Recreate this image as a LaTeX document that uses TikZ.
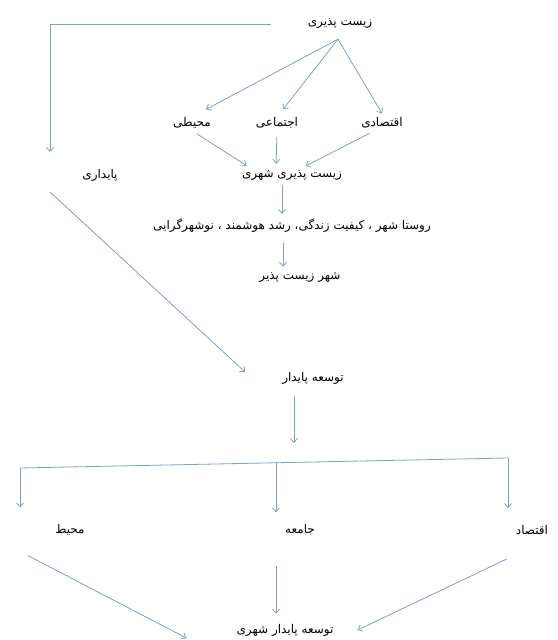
\documentclass[tikz,border=0pt]{standalone}
\usepackage{fontspec}
\newfontfamily\arabicfont[Script=Arabic]{DejaVu Sans}
\TeXXeTstate=1
\usetikzlibrary{arrows.meta}
\definecolor{linkblue}{RGB}{128,158,200}
\tikzset{
    term/.style={inner sep=2pt, font=\arabicfont\fontsize{12}{14}\selectfont},
    link/.style={draw=linkblue, line width=0.8pt, -{Straight Barb[length=4pt,width=7pt]}},
    bar/.style={draw=linkblue, line width=0.8pt}
}
\begin{document}
\begin{tikzpicture}[x=1pt,y=-1pt]
            \useasboundingbox (0,0) rectangle (557,640);
            \node[term] (top) at (340,23) {\beginR زیست پذیری\endR};
            \node[term] (env) at (192,123) {\beginR محیطی\endR};
            \node[term] (soc) at (277,123) {\beginR اجتماعی\endR};
            \node[term] (eco) at (382,123) {\beginR اقتصادی\endR};
            \node[term] (pay) at (100,175) {\beginR پایداری\endR};
            \node[term] (urb) at (292,175) {\beginR زیست پذیری شهری\endR};
            \node[term] (list) at (292,226) {\beginR روستا شهر ، کیفیت زندگی، رشد هوشمند ، نوشهرگرایی\endR};
            \node[term] (city) at (300,277) {\beginR شهر زیست پذیر\endR};
            \node[term] (sdev) at (313,378) {\beginR توسعه پایدار\endR};
            \node[term] (menv) at (70,530) {\beginR محیط\endR};
            \node[term] (msoc) at (300,530) {\beginR جامعه\endR};
            \node[term] (meco) at (532,530) {\beginR اقتصاد\endR};
            \node[term] (usd) at (285,630) {\beginR توسعه پایدار شهری\endR};

            \coordinate (fork) at ([xshift=-2pt,yshift=-9pt]top.south);
            \coordinate (drop) at (50,152);
            \coordinate (rise) at (50,192);
            \coordinate (stem) at (294,443);
            \coordinate (barl) at (20,468);
            \coordinate (barm) at (276,462);
            \coordinate (barr) at (508,458);

            \draw[link] ([xshift=-35pt,yshift=-1pt]top.west) -| (drop);
            \draw[link] (rise) -- ([xshift=-35pt,yshift=6pt]sdev.west);
            \draw[link] (fork) -- ([xshift=14pt,yshift=6pt]env.north);
            \draw[link] (fork) -- ([xshift=6pt,yshift=6pt]soc.north);
            \draw[link] (fork) -- ([yshift=2pt]eco.north);
            \draw[link, shorten <=6pt, shorten >=4pt] (env.south) -- ([xshift=-42pt]urb.north);
            \draw[link, shorten <=6pt, shorten >=4pt] (soc.south) -- ([xshift=-16pt]urb.north);
            \draw[link, shorten <=6pt, shorten >=4pt] ([xshift=-7pt]eco.south) -- ([xshift=10pt]urb.north);
            \draw[link, shorten <=3pt, shorten >=3pt] ([xshift=-10pt]urb.south) -- ([xshift=-10pt]list.north);
            \draw[link, shorten <=8pt, shorten >=3pt] ([xshift=-9pt]list.south) -- ([xshift=-17pt]city.north);
            \draw[link] ([xshift=-19pt,yshift=-10pt]sdev.south) -- (stem);
            \draw[bar] (barl) -- (barr);
            \draw[link, shorten >=15pt] (barl) -- (barl |- menv.north);
            \draw[link, shorten >=10pt] (barm) -- (barm |- msoc.north);
            \draw[link, shorten >=15pt] (barr) -- (barr |- meco.north);
            \draw[link] ([xshift=-42pt,yshift=-18pt]menv.south) -- ([xshift=-48pt,yshift=-8pt]usd.west);
            \draw[link, shorten >=8pt] ([xshift=-24pt,yshift=-28pt]msoc.south) -- ([xshift=-9pt]usd.north);
            \draw[link] ([xshift=-25pt,yshift=-22pt]meco.south) -- ([xshift=22pt]usd.east);
\end{tikzpicture}
\end{document}
